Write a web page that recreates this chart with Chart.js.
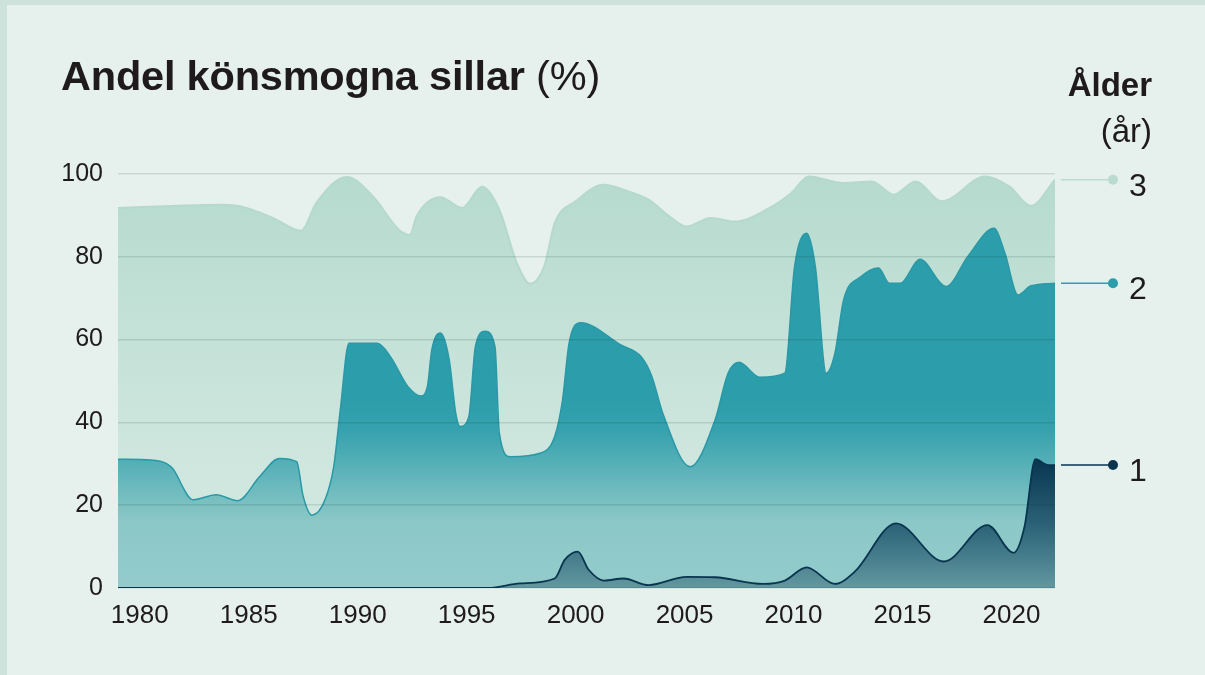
<!DOCTYPE html>
<html lang="sv">
<head>
<meta charset="utf-8">
<title>Andel könsmogna sillar</title>
<script src="https://cdn.jsdelivr.net/npm/chart.js@4/dist/chart.umd.min.js"></script>
<style>
  html, body { margin: 0; padding: 0; }
  body {
    width: 1205px;
    height: 675px;
    background: #cde2da;
    position: relative;
    overflow: hidden;
    font-family: "Liberation Sans", Arial, sans-serif;
    color: #1f1b1d;
  }
  .panel {
    position: absolute;
    left: 7px;
    top: 5px;
    right: 0;
    bottom: 0;
    background: #e6f0ed;
  }
  .chart-wrap {
    position: absolute;
    left: 0;
    top: 0;
    width: 1205px;
    height: 675px;
  }
  .title {
    position: absolute;
    left: 61px;
    top: 52px;
    font-size: 41.5px;
    letter-spacing: -0.2px;
    white-space: nowrap;
  }
  .title b { font-weight: 700; }
  .unit-head {
    position: absolute;
    right: 53px;
    top: 62px;
    text-align: right;
    font-size: 33px;
    line-height: 46px;
  }
  .unit-head b { font-weight: 700; }
</style>
</head>
<body>
<div class="panel"></div>
<div class="chart-wrap"><canvas id="sillChart"></canvas></div>
<div class="title"><b>Andel könsmogna sillar</b> (%)</div>
<div class="unit-head"><b>Ålder</b><br>(år)</div>

<script>
// Data (year, percent)

// 3 år
const age3Years = [1979, 1981.5, 1983.8, 1984.6, 1986.1, 1987.4, 1988.1, 1989.5, 1990.7, 1991.9,
  1992.4, 1992.7, 1993.8, 1994.8, 1995.7, 1996.5, 1997.3, 1997.9, 1998.56, 1999.04,
  2000, 2001.28, 2002.2, 2003.35, 2004.3, 2005.1, 2006.2, 2007.3, 2008.9, 2009.9,
  2010.7, 2012.3, 2013.6, 2014.6, 2015.6, 2016.8, 2018.8, 2019.9, 2020.9, 2022];
const age3Values = [91.8, 92.3, 92.6, 92.2, 89.4, 86.3, 93, 99.3, 94.6, 86.5,
  85.3, 89.8, 94.4, 91.8, 96.9, 91.4, 78.5, 73.5, 77.7, 88.1,
  93.4, 97.4, 96.2, 93.8, 89.8, 87.3, 89.4, 88.5, 91.8, 95.4,
  99.4, 97.8, 98.2, 95, 98.2, 93.4, 99.4, 97, 92.3, 98.6];

// 2 år
const age2Years = [1979, 1980.5, 1981.25, 1981.5, 1982.45, 1983.5, 1984.5, 1985.5, 1986.4, 1987.2,
  1987.5, 1987.9, 1988.5, 1988.9, 1989.2, 1989.6, 1990.9, 1991.5, 1992.3, 1992.9,
  1993.2, 1993.4, 1993.8, 1994.2, 1994.5, 1994.7, 1995.1, 1995.4, 1995.85, 1996.3,
  1996.5, 1997, 1998.4, 1999.04, 1999.4, 1999.7, 2000.24, 2002.07, 2003, 2003.5,
  2004, 2005.26, 2006.4, 2007, 2007.5, 2008.45, 2009.6, 2010.05, 2010.6, 2011,
  2011.5, 2011.9, 2012.3, 2013.1, 2013.9, 2014.4, 2014.9, 2015.8, 2017, 2018,
  2019.2, 2019.7, 2020.3, 2020.9, 2022];
const age2Values = [31.1, 30.9, 30, 28.9, 21.3, 22.5, 21.1, 26.9, 31.3, 30.5,
  22.1, 17.6, 21.3, 29.3, 43, 59.1, 59.1, 55.9, 48.7, 46.4,
  48.7, 57.5, 61.6, 55.1, 42.2, 39, 41.4, 58.3, 62, 58.3,
  37.4, 31.7, 32.6, 36.6, 45.4, 59.1, 64.1, 58.7, 55.9, 51.1,
  42.2, 29.3, 40.6, 51.9, 54.5, 50.9, 51.9, 77.7, 85.7, 77.7,
  51.9, 56.7, 69.6, 75.2, 77.3, 73.6, 73.6, 79.4, 72.8, 80.1,
  86.9, 80.9, 70.8, 73, 73.6];

// 1 år
const age1Years = [1979, 1996, 1997.45, 1999.04, 1999.5, 2000.1, 2000.6, 2001.3, 2002.2, 2003.35,
  2005.1, 2006.4, 2008.6, 2009.6, 2010.6, 2011.9, 2012.8, 2014.7, 2016.9, 2018.9,
  2020.1, 2020.6, 2021.1, 2021.7, 2022];
const age1Values = [0, 0, 1.1, 2.3, 6.8, 8.8, 4.4, 1.8, 2.3, 0.7,
  2.7, 2.6, 1, 1.8, 5, 1, 3.9, 15.6, 6.4, 15.2,
  8.5, 14.8, 31.1, 29.7, 29.7];

const yearTicks = [1980, 1985, 1990, 1995, 2000, 2005, 2010, 2015, 2020];
const percentTicks = [0, 20, 40, 60, 80, 100];
const ageLabels = ['1', '2', '3'];

const FONT = '"Liberation Sans", Arial, sans-serif';

function toPoints(xs, ys) {
  return xs.map((x, i) => ({ x: x, y: ys[i] }));
}

// vertical gradient helper, stops given as [value, color]
function valueGradient(stops) {
  return (context) => {
    const chart = context.chart;
    const area = chart.chartArea;
    if (!area) return stops[0][1];
    const yScale = chart.scales.y;
    const top = yScale.getPixelForValue(100);
    const bottom = yScale.getPixelForValue(0);
    const g = chart.ctx.createLinearGradient(0, top, 0, bottom);
    stops.forEach(s => {
      const pos = (yScale.getPixelForValue(s[0]) - top) / (bottom - top);
      g.addColorStop(Math.min(1, Math.max(0, pos)), s[1]);
    });
    return g;
  };
}

// Leader lines, dots and age numbers at the right edge
const endLabels = {
  id: 'endLabels',
  afterDatasetsDraw(chart) {
    const { ctx, chartArea } = chart;
    const yScale = chart.scales.y;
    chart.data.datasets.forEach((ds) => {
      const last = ds.data[ds.data.length - 1];
      const y = yScale.getPixelForValue(last.y);
      const x0 = chartArea.right + 6;
      const x1 = chartArea.right + 58;
      ctx.save();
      ctx.strokeStyle = ds.markerColor;
      ctx.lineWidth = 1.5;
      ctx.beginPath();
      ctx.moveTo(x0, y);
      ctx.lineTo(x1, y);
      ctx.stroke();
      ctx.fillStyle = ds.markerColor;
      ctx.beginPath();
      ctx.arc(x1, y, 5, 0, Math.PI * 2);
      ctx.fill();
      ctx.fillStyle = '#1f1b1d';
      ctx.font = '32px ' + FONT;
      ctx.textAlign = 'left';
      ctx.textBaseline = 'middle';
      ctx.fillText(ds.label, chartArea.right + 74, y + 7);
      ctx.restore();
    });
  }
};

const ctx = document.getElementById('sillChart');

new Chart(ctx, {
  type: 'line',
  data: {
    datasets: [
      {
        label: ageLabels[0],
        data: toPoints(age1Years, age1Values),
        borderColor: '#0a3550',
        borderWidth: 1.8,
        markerColor: '#0a3550',
        backgroundColor: valueGradient([[32, '#06334e'], [15, '#2c6378'], [0, '#62989f']]),
        fill: 'origin'
      },
      {
        label: ageLabels[1],
        data: toPoints(age2Years, age2Values),
        borderColor: '#2a98a6',
        borderWidth: 1.5,
        markerColor: '#2c9dab',
        backgroundColor: valueGradient([[46, '#2c9dab'], [38, '#36a2ae'], [16, '#8cc8c7'], [0, '#93cbcb']]),
        fill: 'origin'
      },
      {
        label: ageLabels[2],
        data: toPoints(age3Years, age3Values),
        borderColor: '#b5d9cd',
        borderWidth: 2,
        markerColor: '#b9dbd0',
        backgroundColor: valueGradient([[100, '#b6dace'], [60, '#c5e2d8'], [25, '#d0e7df'], [0, '#d0e7df']]),
        fill: 'origin'
      }
    ]
  },
  options: {
    responsive: true,
    maintainAspectRatio: false,
    animation: false,
    layout: {
      padding: { left: 0, right: 150, top: 174, bottom: 0 }
    },
    elements: {
      point: { radius: 0, hoverRadius: 0 },
      line: { cubicInterpolationMode: 'monotone' }
    },
    plugins: {
      legend: { display: false },
      tooltip: { enabled: false },
      title: { display: false }
    },
    scales: {
      x: {
        type: 'linear',
        min: 1979,
        max: 2022,
        afterFit: (s) => { s.height = 87; },
        afterBuildTicks: (s) => { s.ticks = yearTicks.map(v => ({ value: v })); },
        grid: { display: false, drawTicks: false },
        border: { display: false },
        ticks: {
          padding: 12,
          color: '#1f1b1d',
          font: { family: FONT, size: 26 },
          maxRotation: 0,
          callback: (v) => String(v)
        }
      },
      y: {
        min: 0,
        max: 100,
        afterFit: (s) => { s.width = 118; },
        afterBuildTicks: (s) => { s.ticks = percentTicks.map(v => ({ value: v })); },
        grid: {
          z: 1,
          color: 'rgba(0, 55, 45, 0.13)',
          lineWidth: 1.5,
          drawTicks: false
        },
        border: { display: false },
        ticks: {
          padding: 15,
          color: '#1f1b1d',
          font: { family: FONT, size: 25 }
        }
      }
    }
  },
  plugins: [endLabels]
});
</script>
</body>
</html>
